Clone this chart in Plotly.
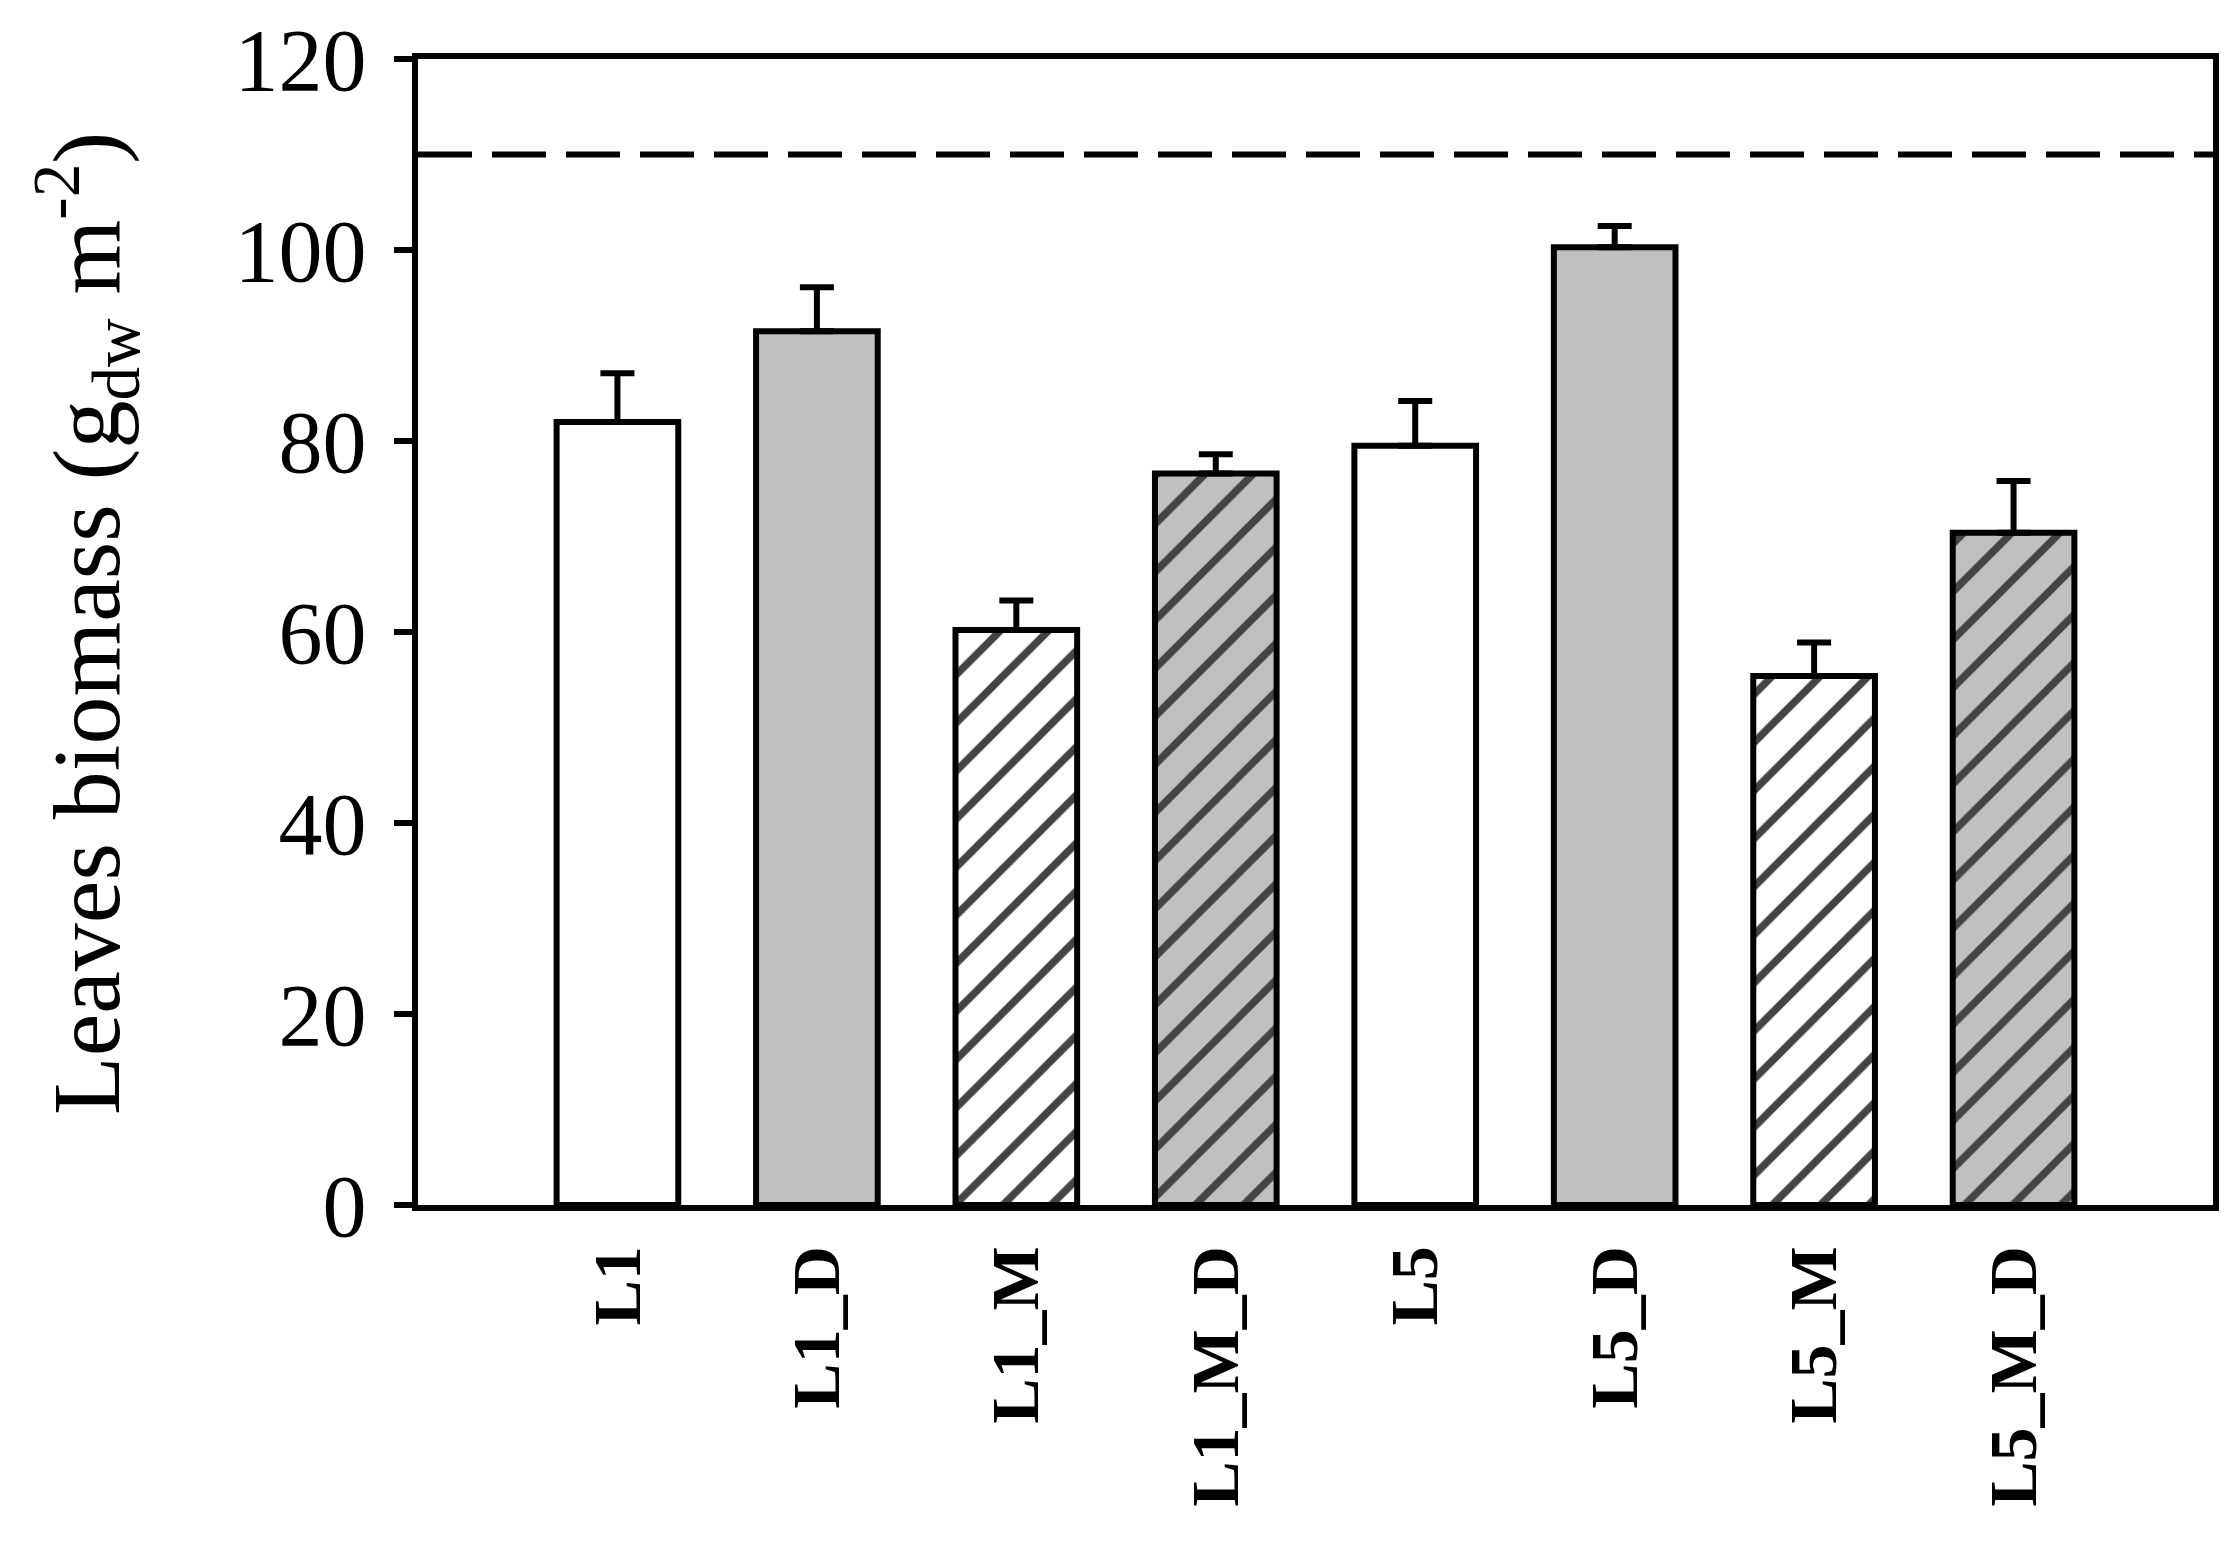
import plotly.graph_objects as go

# leaves biomass per treatment
treatments = ["L1", "L1_D", "L1_M", "L1_M_D", "L5", "L5_D", "L5_M", "L5_M_D"]
biomass = [82.0, 91.5, 60.2, 76.6, 79.5, 100.3, 55.4, 70.4]
biomass_se = [5.1, 4.6, 3.1, 2.0, 4.7, 2.2, 3.5, 5.4]
reference_level = 110
y_ticks = [0, 20, 40, 60, 80, 100, 120]

fill_colors = ["white", "#c0c0c0", "white", "#c0c0c0",
               "white", "#c0c0c0", "white", "#c0c0c0"]
hatches = ["", "", "/", "/", "", "", "/", "/"]

serif = "Liberation Serif, Times New Roman, serif"

fig = go.Figure()

fig.add_trace(go.Bar(
    x=treatments,
    y=biomass,
    width=0.61,
    marker=dict(
        color=fill_colors,
        line=dict(color="black", width=6),
        pattern=dict(shape=hatches, fgcolor="black", fgopacity=1,
                     size=34, solidity=0.22),
    ),
    error_y=dict(
        type="data",
        array=biomass_se,
        arrayminus=[0] * len(biomass_se),
        symmetric=False,
        color="black",
        thickness=6,
        width=17,
    ),
    showlegend=False,
))

fig.add_hline(
    y=reference_level,
    line=dict(color="black", width=6, dash="54px,20px"),
)

fig.update_xaxes(
    range=[-1, 8],
    showline=True,
    linecolor="black",
    linewidth=6,
    mirror=True,
    ticks="",
    tickangle=-90,
    tickfont=dict(family=serif, size=68, color="black", weight="bold"),
    ticklabelstandoff=8,
    showgrid=False,
)
fig.update_yaxes(
    range=[0, 120],
    tickvals=y_ticks,
    showline=True,
    linecolor="black",
    linewidth=6,
    mirror=True,
    ticks="outside",
    ticklen=18,
    tickwidth=6,
    tickcolor="black",
    tickfont=dict(family=serif, size=88, color="black"),
    ticklabelstandoff=10,
    showgrid=False,
    zeroline=False,
)

# y title placed as a rotated annotation so it sits where the original does
fig.add_annotation(
    text="Leaves biomass (g<sub>dw</sub> m<sup>-2</sup>)",
    xref="paper", yref="paper",
    x=0, y=0.5,
    xshift=-332, yshift=8,
    xanchor="center", yanchor="middle",
    textangle=-90,
    showarrow=False,
    font=dict(family=serif, size=96, color="black"),
)

fig.update_layout(
    width=2236,
    height=1542,
    margin=dict(l=418, r=23, t=57, b=337),
    plot_bgcolor="white",
    paper_bgcolor="white",
)

fig.write_html("out.html", config={"displayModeBar": False},
               post_script="document.body.style.margin='0';")
